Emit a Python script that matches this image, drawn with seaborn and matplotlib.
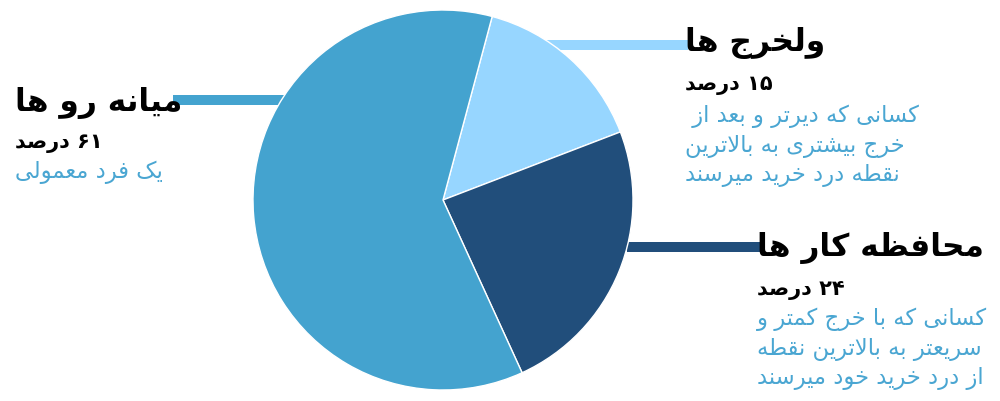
import matplotlib
matplotlib.use("Agg")
import matplotlib.pyplot as plt
import seaborn as sns

sns.set_theme(style="white")
plt.rcParams["font.family"] = ["DejaVu Sans"]

# data (order = clockwise from the top)
groups = ["ولخرج ها", "محافظه کار ها", "میانه رو ها"]
shares = [15, 24, 61]
notes = [
    ["کسانی که دیرتر و بعد از ", "خرج بیشتری به بالاترین", "نقطه درد خرید میرسند"],
    ["کسانی که با خرج کمتر و", "سریعتر به بالاترین نقطه", "از درد خرید خود میرسند"],
    ["یک فرد معمولی"],
]
colors = ["#97d6ff", "#214e7b", "#44a3cf"]
note_color = "#4aa6d2"

# matplotlib has no arabic shaping, so pick presentation forms by hand
# (isolated, final, initial, medial)
FORMS = {
    "\u0627": ("\ufe8d", "\ufe8e"),
    "\u062f": ("\ufea9", "\ufeaa"),
    "\u0631": ("\ufead", "\ufeae"),
    "\u0632": ("\ufeaf", "\ufeb0"),
    "\u0648": ("\ufeed", "\ufeee"),
    "\u0628": ("\ufe8f", "\ufe90", "\ufe91", "\ufe92"),
    "\u062a": ("\ufe95", "\ufe96", "\ufe97", "\ufe98"),
    "\u062c": ("\ufe9d", "\ufe9e", "\ufe9f", "\ufea0"),
    "\u062d": ("\ufea1", "\ufea2", "\ufea3", "\ufea4"),
    "\u062e": ("\ufea5", "\ufea6", "\ufea7", "\ufea8"),
    "\u0633": ("\ufeb1", "\ufeb2", "\ufeb3", "\ufeb4"),
    "\u0634": ("\ufeb5", "\ufeb6", "\ufeb7", "\ufeb8"),
    "\u0635": ("\ufeb9", "\ufeba", "\ufebb", "\ufebc"),
    "\u0637": ("\ufec1", "\ufec2", "\ufec3", "\ufec4"),
    "\u0638": ("\ufec5", "\ufec6", "\ufec7", "\ufec8"),
    "\u0639": ("\ufec9", "\ufeca", "\ufecb", "\ufecc"),
    "\u0641": ("\ufed1", "\ufed2", "\ufed3", "\ufed4"),
    "\u0642": ("\ufed5", "\ufed6", "\ufed7", "\ufed8"),
    "\u0644": ("\ufedd", "\ufede", "\ufedf", "\ufee0"),
    "\u0645": ("\ufee1", "\ufee2", "\ufee3", "\ufee4"),
    "\u0646": ("\ufee5", "\ufee6", "\ufee7", "\ufee8"),
    "\u0647": ("\ufee9", "\ufeea", "\ufeeb", "\ufeec"),
    "\u06a9": ("\ufb8e", "\ufb8f", "\ufb90", "\ufb91"),
    "\u06cc": ("\ufbfc", "\ufbfd", "\ufbfe", "\ufbff"),
}
LAM_ALEF = ("\ufefb", "\ufefc")


def rtl(text):
    chars = list(text)
    out = []
    i = 0
    while i < len(chars):
        c = chars[i]
        if c not in FORMS:
            out.append(c)
            i += 1
            continue
        prev = chars[i - 1] if i > 0 else ""
        joins_prev = prev in FORMS and len(FORMS[prev]) == 4
        if c == "\u0644" and i + 1 < len(chars) and chars[i + 1] == "\u0627":
            out.append(LAM_ALEF[1 if joins_prev else 0])
            i += 2
            continue
        nxt = chars[i + 1] if i + 1 < len(chars) else ""
        joins_next = len(FORMS[c]) == 4 and nxt in FORMS
        if joins_prev and joins_next:
            out.append(FORMS[c][3])
        elif joins_prev:
            out.append(FORMS[c][1])
        elif joins_next:
            out.append(FORMS[c][2])
        else:
            out.append(FORMS[c][0])
        i += 1
    # visual order, digit runs stay left to right
    runs = []
    for ch in out:
        is_digit = "\u06f0" <= ch <= "\u06f9"
        if runs and runs[-1][0] == is_digit:
            runs[-1][1].append(ch)
        else:
            runs.append([is_digit, [ch]])
    vis = ""
    for is_digit, r in reversed(runs):
        vis += "".join(r if is_digit else reversed(r))
    return vis


def fa_num(v):
    return str(v).translate(str.maketrans("0123456789", "۰۱۲۳۴۵۶۷۸۹"))


H = 401
fig = plt.figure(figsize=(10, 4.01), dpi=100)
ax = fig.add_axes([0, 0, 1, 1])
ax.pie(shares, colors=colors, startangle=75, counterclock=False,
       center=(443, H - 200), radius=190, frame=True,
       wedgeprops=dict(edgecolor="white", linewidth=1))
ax.set_xlim(0, 1000)
ax.set_ylim(0, H)
ax.set_aspect("auto")
ax.axis("off")

# leader lines and label blocks: (line x0, line x1, line y, text x, baselines)
blocks = [
    (538, 688, 44.5, 685, [51, 90, 122, 152, 181]),
    (627, 760, 246.5, 757, [256, 295, 325, 355, 384]),
    (173, 290, 100, 15, [111, 148, 178]),
]
for k, (x0, x1, ly, tx, base) in enumerate(blocks):
    ax.plot([x0, x1], [H - ly, H - ly], color=colors[k], lw=7.2,
            solid_capstyle="butt", zorder=0.5)
    ax.text(tx, H - base[0], rtl(groups[k]), fontsize=22.5, fontweight="bold",
            color="black", ha="left", va="baseline")
    ax.text(tx, H - base[1], rtl(fa_num(shares[k]) + " درصد"), fontsize=15,
            fontweight="bold", color="black", ha="left", va="baseline")
    for j, line in enumerate(notes[k]):
        ax.text(tx, H - base[2 + j], rtl(line), fontsize=16.3, color=note_color,
                ha="left", va="baseline")

fig.savefig("out.png", dpi=100)
